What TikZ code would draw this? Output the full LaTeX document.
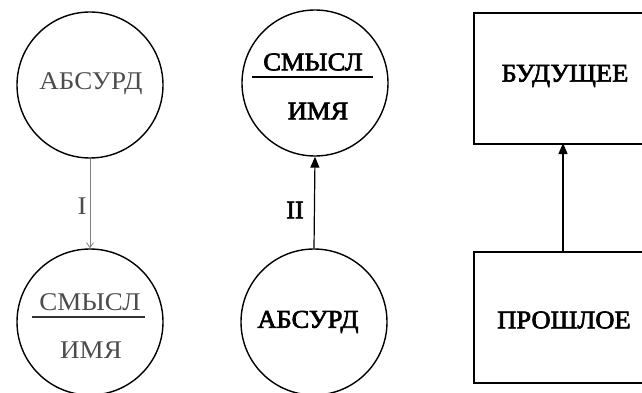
\documentclass[tikz,border=0pt]{standalone}
\usepackage{fontspec}
\setmainfont{Liberation Serif}
\newfontfamily\wideserif[FakeStretch=1.06]{Liberation Serif}
\newfontfamily\wideserifb[FakeStretch=1.04,FakeBold=2.6]{Liberation Serif}
\usetikzlibrary{arrows.meta}
\begin{document}
\begin{tikzpicture}[x=1pt,y=-1pt,
  circ/.style={circle,draw,line width=1.4pt,minimum size=146pt,inner sep=0pt},
  lightlbl/.style={font=\wideserif\fontsize{25.5}{27}\selectfont,text=black!70,inner sep=0pt},
  darklbl/.style={font=\wideserifb\fontsize{25.5}{27}\selectfont,inner sep=0pt},
  boxr/.style={draw,line width=1.7pt},
  fracline/.style={line width=1.3pt},
  solidarrow/.style={line width=1.2pt,-{Triangle[length=11pt,width=9pt]}},
  faintarrow/.style={line width=0.8pt,draw=black!50,-{Straight Barb[length=5pt,width=7pt]}},
]
\useasboundingbox (0,0) rectangle (642,393);
\clip (0,0) rectangle (642,393);
% left column
\node[circ] (a1) at (90,85) {};
\node[lightlbl] (a1t) at (91,84) {АБСУРД};
\node[circ] (s1) at (90,322) {};
\node[lightlbl] (s1t) at (90,302) {СМЫСЛ};
\node[lightlbl] (s1b) at (91,350) {ИМЯ};
\coordinate (s1l) at (32,317);
\coordinate (s1r) at (145,317);
\draw[fracline,draw=black!80] (s1l) -- (s1r);
\draw[faintarrow] (a1.south) -- (s1.north);
\node[lightlbl] (lab1) at (82,206) {I};
% middle column
\node[circ] (s2) at (315,83) {};
\node[darklbl] (s2t) at (313,62) {СМЫСЛ};
\node[darklbl] (s2b) at (318,111) {ИМЯ};
\coordinate (s2l) at (252,77);
\coordinate (s2r) at (373,77);
\draw[fracline] (s2l) -- (s2r);
\node[circ] (a2) at (314,322) {};
\node[darklbl] (a2t) at (308,322) {АБСУРД};
\draw[solidarrow] (a2.north) -- (s2.south);
\node[darklbl] (lab2) at (295,210) {II};
% right column
\node[boxr,minimum width=190pt,minimum height=131pt,anchor=north west] (fut) at (473,12) {};
\node[darklbl] (futt) at (565,76) {БУДУЩЕЕ};
\node[boxr,minimum width=190pt,minimum height=131pt,anchor=north west] (pas) at (473,251) {};
\node[darklbl] (past) at (564,320) {ПРОШЛОЕ};
\coordinate (pastop) at (563,251);
\coordinate (futbot) at (563,143);
\draw[solidarrow] (pastop) -- (futbot);
\end{tikzpicture}
\end{document}
